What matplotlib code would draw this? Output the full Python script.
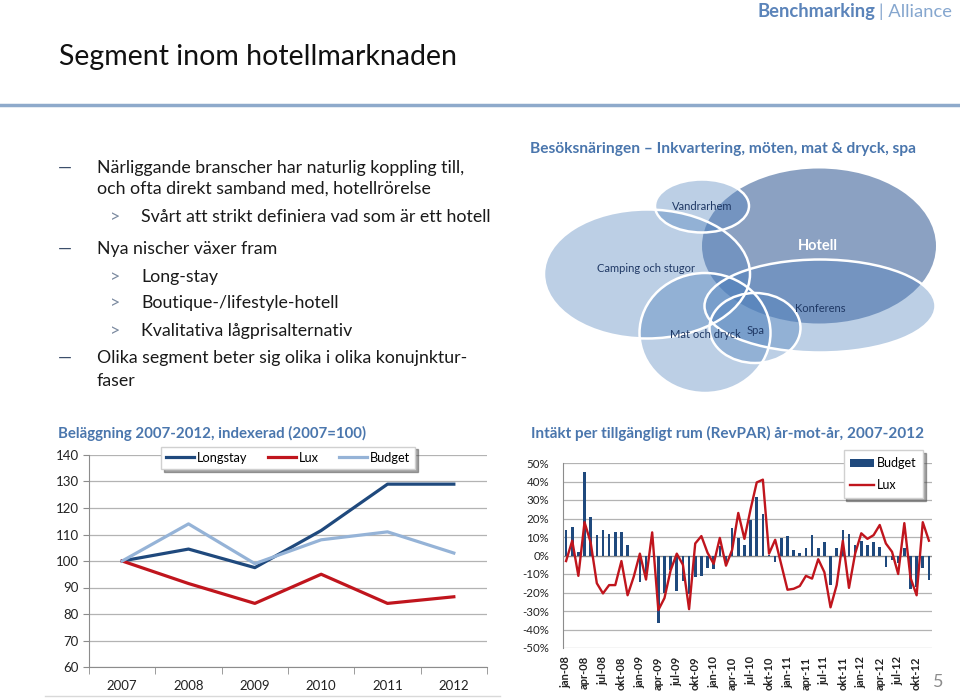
import matplotlib
matplotlib.use('Agg')
import matplotlib.pyplot as plt
from matplotlib.patches import Ellipse, Patch
from matplotlib.lines import Line2D
import numpy as np

plt.rcParams['font.family'] = ['Lato', 'DejaVu Sans']

W, H = 960, 698
BLUE_TITLE = '#4a76ad'
NAVY = '#1f497d'
RED = '#c0151d'
LIGHT = '#95b3d7'
GRID = '#b3b3b3'

# --- Beläggning (index 2007=100) ---
years = ['2007', '2008', '2009', '2010', '2011', '2012']
longstay = [100, 104.5, 97.5, 111.5, 129, 129]
lux_index = [100, 91.5, 84, 95, 84, 86.5]
budget_index = [100, 114, 99, 108, 111, 103]

# --- RevPAR year-on-year, per month jan-08 .. dec-12 (%) ---
month_names = ['jan', 'feb', 'mar', 'apr', 'maj', 'jun',
               'jul', 'aug', 'sep', 'okt', 'nov', 'dec']
month_labels = [f'{m}-{y}' for y in ['08', '09', '10', '11', '12'] for m in month_names]
budget_yoy = [14, 15.5, 2, 45, 21, 11, 14, 11.5, 12.5, 12.5, 5.5, -0.5,
              -14.5, -12.5, -1, -36.5, -20, -8, -19, -14, -21, -11.5, -11, -7,
              -7.5, 5, -5, 15, 9.5, 5.5, 19, 31.5, 22.5, 0.5, -3.5, 9.5,
              10.5, 3, 1.5, 4, 11, 4, 7.5, -16, 4, 14, 11.5, 5.5,
              8, 5.5, 7.5, 4.5, -6, -2.5, -4, 4, -18, -17, -7, -13.5]
lux_yoy = [-3, 8, -11, 18, 7, -15, -20.5, -16, -16, -3, -21.5, -11.5,
           1, -13, 12.5, -29.5, -23, -8, 1, -5, -29, 6.5, 10.5, 1.5,
           -4.5, 9.5, -5.5, 3, 23, 9, 25, 39.5, 41, 1, 8.5, -5,
           -18.5, -18, -16.5, -11, -12.5, -2, -9, -28, -16, 8, -17.5, 1,
           12, 9, 11, 16.5, 6.5, 2, -10, 17.5, -12, -21.5, 18, 8]

# --- bubble diagram: label, centre x, centre y, width, height (pixels) ---
bubbles = [
    ('Hotell', 819, 246, 234, 155),
    ('Camping och stugor', 647, 274, 206, 129),
    ('Vandrarhem', 702, 206, 94, 53),
    ('Konferens', 820, 306, 231, 93),
    ('Mat och dryck', 705, 333, 131, 120),
    ('Spa', 755, 328, 91, 70),
]
bubble_label_pos = {
    'Hotell': (818, 246), 'Camping och stugor': (646, 268),
    'Vandrarhem': (702, 206), 'Konferens': (820, 308),
    'Mat och dryck': (705, 334), 'Spa': (756, 330),
}

fig = plt.figure(figsize=(W / 100, H / 100), dpi=100)
fig.patch.set_facecolor('white')


def px_axes(x0, y0, x1, y1):
    return fig.add_axes([x0 / W, 1 - y1 / H, (x1 - x0) / W, (y1 - y0) / H])


# background axes in pixel coordinates for the slide text
bg = fig.add_axes([0, 0, 1, 1])
bg.set_xlim(0, W)
bg.set_ylim(H, 0)
bg.axis('off')

bg.text(875, 12, 'Benchmarking', ha='right', va='center', fontsize=13.2,
        fontweight='bold', color='#5b84ba')
bg.text(879, 12, '| Alliance', ha='left', va='center', fontsize=13.2, color='#86a7cf')
bg.text(59, 57, 'Segment inom hotellmarknaden', ha='left', va='center',
        fontsize=20.5, color='#111111')
bg.plot([0, W], [105, 105], color='#8eaacb', lw=2.5)

FS = 12.8
bullets = [
    (0, 168, 'Närliggande branscher har naturlig koppling till,'),
    (None, 189, 'och ofta direkt samband med, hotellrörelse'),
    (1, 217, 'Svårt att strikt definiera vad som är ett hotell'),
    (0, 249, 'Nya nischer växer fram'),
    (1, 277, 'Long-stay'),
    (1, 303, 'Boutique-/lifestyle-hotell'),
    (1, 331, 'Kvalitativa lågprisalternativ'),
    (0, 358, 'Olika segment beter sig olika i olika konujnktur-'),
    (None, 381, 'faser'),
]
for level, y, txt in bullets:
    if level == 0:
        bg.text(58, y, '—', ha='left', va='center', fontsize=FS, color='#3c4f6b')
        bg.text(97, y, txt, ha='left', va='center', fontsize=FS, color='#1a1a1a')
    elif level == 1:
        bg.text(110, y, '>', ha='left', va='center', fontsize=FS, color='#7b8aa0')
        bg.text(141, y, txt, ha='left', va='center', fontsize=FS, color='#1a1a1a')
    else:
        bg.text(97, y, txt, ha='left', va='center', fontsize=FS, color='#1a1a1a')

bg.text(530, 149, 'Besöksnäringen – Inkvartering, möten, mat & dryck, spa',
        ha='left', va='center', fontsize=11.2, fontweight='bold', color=BLUE_TITLE)

for name, cx, cy, w, h in bubbles:
    if name == 'Hotell':
        bg.add_patch(Ellipse((cx, cy), w, h, facecolor='#5a7aa8', alpha=0.7,
                             edgecolor='none', zorder=2))
    else:
        bg.add_patch(Ellipse((cx, cy), w, h, facecolor='#4f81bd', alpha=0.38,
                             edgecolor='none', zorder=2))
        bg.add_patch(Ellipse((cx, cy), w, h, facecolor='none', edgecolor='white',
                             lw=1.8, zorder=3))
for name, (lx, ly) in bubble_label_pos.items():
    if name == 'Hotell':
        bg.text(lx, ly, name, ha='center', va='center', fontsize=10.5,
                fontweight='bold', color='white', zorder=5)
    else:
        bg.text(lx, ly, name, ha='center', va='center', fontsize=8,
                color='#1f3864', zorder=5)

bg.text(58, 433, 'Beläggning 2007-2012, indexerad (2007=100)', ha='left',
        va='center', fontsize=10.8, fontweight='bold', color=BLUE_TITLE)
bg.text(531, 433, 'Intäkt per tillgängligt rum (RevPAR) år-mot-år, 2007-2012',
        ha='left', va='center', fontsize=11, fontweight='bold', color=BLUE_TITLE)
bg.plot([45, 500], [696, 696], color='#d9d9d9', lw=1)
bg.text(938, 682, '5', ha='center', va='center', fontsize=13, color='#8c8c8c')

# --- left line chart ---
ax1 = px_axes(89, 455, 487, 667)
x1 = np.arange(len(years))
ax1.plot(x1, longstay, color=NAVY, lw=2.3, label='Longstay')
ax1.plot(x1, lux_index, color=RED, lw=2.3, label='Lux')
ax1.plot(x1, budget_index, color=LIGHT, lw=2.3, label='Budget')
ax1.set_xlim(-0.5, len(years) - 0.5)
ax1.set_ylim(60, 140)
ax1.set_yticks(range(60, 141, 10))
ax1.set_xticks(x1)
ax1.set_xticklabels(years)
ax1.set_xticks(np.arange(-0.5, len(years), 1), minor=True)
ax1.tick_params(axis='x', which='major', length=0, pad=9, labelsize=9.5, colors='#222222')
ax1.tick_params(axis='x', which='minor', length=5, color='#8c8c8c')
ax1.tick_params(axis='y', length=4, color='#8c8c8c', labelsize=9.5, labelcolor='#222222')
ax1.yaxis.grid(True, color=GRID, lw=0.9)
ax1.set_axisbelow(True)
for s in ['top', 'right']:
    ax1.spines[s].set_visible(False)
for s in ['left', 'bottom']:
    ax1.spines[s].set_color('#8c8c8c')
leg1 = ax1.legend(loc='upper center', bbox_to_anchor=(0.5, 1.04), ncol=3,
                  frameon=True, fancybox=False, shadow=True, fontsize=9.2,
                  handlelength=2.2, handletextpad=0.2, columnspacing=1.6,
                  borderpad=0.4, borderaxespad=0)
leg1.get_frame().set_edgecolor('#d0d0d0')

# --- right bar + line chart ---
ax2 = px_axes(563, 463, 932, 648)
x2 = np.arange(len(month_labels))
ax2.bar(x2, np.array(budget_yoy) / 100, width=0.42, color=NAVY, zorder=2)
ax2.plot(x2, np.array(lux_yoy) / 100, color=RED, lw=1.7, zorder=3)
ax2.set_xlim(-0.5, len(month_labels) - 0.5)
ax2.set_ylim(-0.5, 0.5)
yt = np.arange(-50, 51, 10)
ax2.set_yticks(yt / 100)
ax2.set_yticklabels([f'{v}%' for v in yt])
ax2.set_xticks(x2[::3])
ax2.set_xticklabels(month_labels[::3], rotation=90, fontweight='bold')
ax2.tick_params(axis='x', length=0, pad=6, labelsize=8, colors='#222222')
ax2.tick_params(axis='y', length=0, pad=10, labelsize=8.3, labelcolor='#222222')
ax2.yaxis.grid(True, color=GRID, lw=0.9, zorder=0)
ax2.axhline(0, color='#8c8c8c', lw=0.9, zorder=1)
ax2.set_axisbelow(True)
for s in ['top', 'right', 'bottom']:
    ax2.spines[s].set_visible(False)
ax2.spines['left'].set_color('#8c8c8c')
handles = [Patch(facecolor=NAVY, label='Budget'),
           Line2D([0], [0], color=RED, lw=1.7, label='Lux')]
leg2 = ax2.legend(handles=handles, loc='upper right', bbox_to_anchor=(0.976, 1.068),
                  frameon=True, fancybox=False, shadow=True, fontsize=9,
                  handlelength=1.9, handletextpad=0.2, labelspacing=0.8,
                  borderpad=0.55, borderaxespad=0)
leg2.get_frame().set_edgecolor('#d0d0d0')

fig.savefig('out.png', dpi=100, facecolor='white')
